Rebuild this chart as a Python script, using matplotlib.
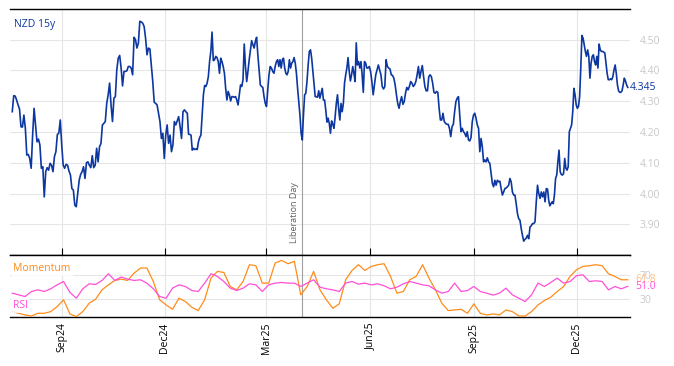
import numpy as np
import pandas as pd
import matplotlib
matplotlib.use("Agg")
import matplotlib.pyplot as plt
import matplotlib.dates as mdates
import matplotlib.transforms as mtransforms

plt.rcParams['font.family'] = ['Open Sans', 'DejaVu Sans']

# ---------------- data ----------------
series_name = "NZD 15y"
event_date = "2025-04-02"
event_label = "Liberation Day"

# boundaries of the chunks the NZD series is read in
chunk_dates = ["2024-07-19", "2024-10-03", "2024-12-21", "2025-03-11",
               "2025-05-30", "2025-08-17", "2025-11-05", "2026-01-15"]

nzd_1 = [4.266, 4.318, 4.317, 4.304, 4.288, 4.274, 4.217, 4.216, 4.255, 4.212, 4.125, 4.127, 4.114, 4.082,
         4.190, 4.277, 4.223, 4.168, 4.177, 4.158, 4.082, 4.087, 3.989, 4.071, 4.084, 4.076, 4.098, 4.092,
         4.071, 4.120, 4.136, 4.192, 4.196, 4.239, 4.158, 4.092, 4.082, 4.095, 4.092, 4.073, 4.060, 4.016,
         4.011, 3.962, 3.957, 4.000, 4.043, 4.062, 4.071, 4.087, 4.049, 4.100, 4.103, 4.092, 4.084, 4.123,
         4.084, 4.092, 4.147]
nzd_2 = [4.103, 4.152, 4.163, 4.223, 4.228, 4.234, 4.293, 4.321, 4.359, 4.288, 4.234, 4.310, 4.315, 4.402,
         4.440, 4.449, 4.408, 4.350, 4.397, 4.397, 4.399, 4.413, 4.413, 4.408, 4.386, 4.508, 4.500, 4.473,
         4.489, 4.560, 4.558, 4.554, 4.543, 4.505, 4.451, 4.473, 4.470, 4.418, 4.364, 4.297, 4.293, 4.288,
         4.261, 4.234, 4.179, 4.196, 4.114, 4.190, 4.223, 4.163, 4.190, 4.136, 4.158, 4.234, 4.223, 4.236,
         4.250, 4.217, 4.179, 4.266, 4.272, 4.266]
nzd_3 = [4.261, 4.193, 4.192, 4.190, 4.141, 4.147, 4.143, 4.145, 4.143, 4.168, 4.182, 4.190, 4.255, 4.321,
         4.351, 4.348, 4.359, 4.380, 4.429, 4.462, 4.525, 4.432, 4.435, 4.446, 4.442, 4.429, 4.391, 4.440,
         4.429, 4.413, 4.391, 4.342, 4.304, 4.332, 4.321, 4.301, 4.315, 4.315, 4.313, 4.315, 4.304, 4.288,
         4.321, 4.353, 4.348, 4.370, 4.486, 4.413, 4.364, 4.397, 4.435, 4.467, 4.497, 4.484, 4.473, 4.495,
         4.508, 4.451, 4.402, 4.353, 4.348, 4.345, 4.315, 4.293, 4.283, 4.337, 4.386, 4.413, 4.408, 4.397,
         4.391, 4.413, 4.429]
nzd_4 = [4.435, 4.413, 4.435, 4.408, 4.435, 4.440, 4.408, 4.391, 4.386, 4.397, 4.435, 4.408, 4.424, 4.429,
         4.442, 4.424, 4.391, 4.342, 4.299, 4.255, 4.196, 4.174, 4.255, 4.321, 4.326, 4.364, 4.418, 4.462,
         4.467, 4.440, 4.397, 4.353, 4.315, 4.315, 4.313, 4.334, 4.310, 4.326, 4.342, 4.304, 4.304, 4.272,
         4.232, 4.245, 4.228, 4.196, 4.236, 4.225, 4.212, 4.250, 4.293, 4.321, 4.275, 4.239, 4.293, 4.266,
         4.293, 4.359, 4.386, 4.408, 4.442, 4.397, 4.366, 4.386, 4.413, 4.391, 4.364, 4.490, 4.418, 4.429,
         4.408, 4.429, 4.386, 4.329, 4.429, 4.424, 4.408]
nzd_5 = [4.408, 4.413, 4.397, 4.364, 4.321, 4.353, 4.386, 4.402, 4.418, 4.402, 4.386, 4.348, 4.340, 4.348,
         4.435, 4.413, 4.408, 4.405, 4.386, 4.384, 4.375, 4.353, 4.321, 4.293, 4.277, 4.299, 4.315, 4.290,
         4.299, 4.326, 4.345, 4.337, 4.348, 4.364, 4.359, 4.348, 4.353, 4.364, 4.386, 4.413, 4.375, 4.397,
         4.416, 4.380, 4.348, 4.334, 4.334, 4.380, 4.386, 4.380, 4.359, 4.329, 4.326, 4.332, 4.329, 4.277,
         4.239, 4.239, 4.261, 4.234, 4.228, 4.225, 4.225, 4.212, 4.185, 4.217, 4.225, 4.266, 4.299]
nzd_6 = [4.310, 4.315, 4.255, 4.201, 4.212, 4.201, 4.196, 4.185, 4.201, 4.174, 4.171, 4.182, 4.234, 4.255,
         4.261, 4.245, 4.223, 4.212, 4.136, 4.179, 4.152, 4.103, 4.109, 4.103, 4.116, 4.103, 4.098, 4.065,
         4.033, 4.022, 4.043, 4.027, 4.043, 4.038, 4.040, 4.016, 3.995, 4.005, 4.016, 4.018, 4.022, 4.027,
         4.049, 4.038, 4.005, 3.995, 3.995, 3.967, 3.935, 3.918, 3.913, 3.886, 3.864, 3.845, 3.851, 3.855,
         3.864, 3.853, 3.891, 3.895, 3.902, 3.902, 3.908, 3.973, 4.027, 4.000, 3.984, 4.005, 3.989, 4.005,
         3.973, 4.016]
nzd_7 = [4.014, 3.978, 3.960, 3.967, 3.973, 3.967, 3.995, 4.049, 4.060, 4.103, 4.141, 4.071, 4.062, 4.060,
         4.065, 4.114, 4.082, 4.076, 4.087, 4.201, 4.212, 4.223, 4.266, 4.342, 4.321, 4.288, 4.277, 4.283,
         4.315, 4.408, 4.514, 4.505, 4.484, 4.462, 4.446, 4.467, 4.446, 4.375, 4.424, 4.446, 4.451, 4.429,
         4.418, 4.446, 4.408, 4.486, 4.467, 4.462, 4.462, 4.460, 4.457, 4.424, 4.391, 4.370, 4.370, 4.373,
         4.370, 4.380, 4.402, 4.418, 4.391, 4.353, 4.334, 4.329, 4.329, 4.334, 4.353, 4.375, 4.366, 4.353,
         4.345]

rsi = [39.8, 37.1, 34.3, 42.6, 45.3, 42.6, 47.0, 53.5, 59.0, 40.9, 31.6, 47.0, 55.2, 54.1, 60.7, 71.6,
       60.7, 66.3, 62.9, 60.7, 61.8, 56.3, 47.0, 34.3, 31.6, 48.1, 53.5, 50.8, 44.2, 42.6, 56.3, 71.6,
       67.3, 59.0, 48.1, 44.2, 48.1, 55.2, 53.5, 42.6, 53.5, 56.3, 57.4, 56.3, 56.3, 50.8, 56.3, 61.8,
       49.7, 47.0, 45.3, 42.6, 56.3, 59.0, 54.6, 56.3, 53.5, 55.2, 51.9, 47.0, 49.7, 55.2, 59.0, 56.3,
       53.5, 51.9, 45.3, 39.8, 42.6, 56.3, 42.6, 44.2, 50.8, 42.6, 39.8, 36.6, 39.8, 48.1, 37.1, 31.6,
       26.1, 37.1, 56.3, 50.8, 57.4, 64.5, 56.3, 59.0, 68.4, 70.0, 59.0, 60.1, 59.0, 45.3, 50.8, 47.0, 51.0]
momentum = [9.6, 6.9, 4.1, 2.5, 6.9, 6.9, 9.6, 17.9, 28.9, 5.8, 1.4, 9.6, 23.4, 30.0, 45.3, 53.5, 60.7,
            62.9, 60.7, 72.7, 81.0, 81.0, 59.0, 28.9, 20.6, 13.5, 31.6, 26.1, 16.8, 11.3, 28.9, 64.5, 75.5,
            73.8, 50.8, 45.3, 59.0, 86.5, 84.8, 56.3, 56.3, 89.2, 93.6, 88.1, 92.0, 37.1, 50.8, 75.5, 45.3,
            28.9, 15.1, 22.3, 61.8, 77.1, 86.5, 77.1, 83.7, 86.5, 88.1, 67.3, 39.8, 42.6, 61.8, 67.3, 86.5,
            64.5, 45.3, 23.4, 11.3, 12.4, 13.5, 6.9, 22.3, 6.9, 4.1, 5.8, 4.1, 12.4, 9.6, 2.5, 2.5, 9.6, 20.6,
            27.8, 33.2, 42.6, 50.8, 67.3, 78.2, 83.7, 84.8, 86.5, 84.8, 71.6, 67.3, 61.8, 61.8]

price_ticks = [3.90, 4.00, 4.10, 4.20, 4.30, 4.40, 4.50]
osc_ticks = [30, 70]
month_ticks = ["2024-09-01", "2024-12-01", "2025-03-01", "2025-06-01", "2025-09-01", "2025-12-01"]

# ---------------- build series ----------------
chunks = [nzd_1, nzd_2, nzd_3, nzd_4, nzd_5, nzd_6, nzd_7]
cd = mdates.date2num(pd.to_datetime(chunk_dates))
xs, ys = [], []
for i, vals in enumerate(chunks):
    last = i == len(chunks) - 1
    xs.append(np.linspace(cd[i], cd[i + 1], len(vals), endpoint=last))
    ys.append(np.array(vals))
x_nzd = np.concatenate(xs)
y_nzd = np.concatenate(ys)
x_osc = np.linspace(cd[0], cd[-1], len(rsi))
x_mom = np.linspace(cd[0], cd[-1], len(momentum))

# ---------------- figure ----------------
W, H = 674, 366
fig = plt.figure(figsize=(W / 100, H / 100), dpi=100)
L, R = 10 / W, 630 / W
ax = fig.add_axes([L, 1 - 255 / H, R - L, (255 - 9) / H])
ax2 = fig.add_axes([L, 1 - 317 / H, R - L, (317 - 255) / H], sharex=ax)

blue = "#0d37a0"
orange = "#ff8c1a"
pink = "#ff4fd8"
grid_c = "#e6e6e6"
lab_c = "#c8c8c8"

ax.plot(x_nzd, y_nzd, color=blue, lw=1.2, zorder=3)
ax.set_ylim(3.80, 4.60)
ax.set_xlim(mdates.date2num(pd.Timestamp("2024-07-17")), mdates.date2num(pd.Timestamp("2026-01-17")))

xt = mdates.date2num(pd.to_datetime(month_ticks))
for a in (ax, ax2):
    a.set_xticks(xt)
    for s in ("left", "right"):
        a.spines[s].set_visible(False)
    for s in ("top", "bottom"):
        a.spines[s].set_color("black")
        a.spines[s].set_linewidth(1.0)
    a.grid(True, color=grid_c, lw=0.8, zorder=0)
    a.set_axisbelow(True)
    a.yaxis.tick_right()
    a.tick_params(axis="y", length=0, labelcolor=lab_c, labelsize=7.5, pad=7)
    a.axvline(mdates.date2num(pd.Timestamp(event_date)), color="#a0a0a0", lw=0.8, zorder=2)

ax.set_yticks(price_ticks)
ax.set_yticklabels([f"{v:.2f}" for v in price_ticks])
ax.tick_params(axis="x", direction="in", length=5, color="black", labelbottom=False)

ax.text(0.006, 0.935, series_name, transform=ax.transAxes, color=blue, fontsize=7.5,
        ha="left", va="center")
ax.text(1.0, y_nzd[-1], f"{y_nzd[-1]:.3f}", transform=mtransforms.blended_transform_factory(ax.transAxes, ax.transData),
        color=blue, fontsize=7.5, ha="left", va="center")
ax.text(0.0, 0, "")
off = mtransforms.offset_copy(ax.transData, fig=fig, x=-8, y=0, units="dots")
ax.text(mdates.date2num(pd.Timestamp(event_date)), 3.838, event_label, rotation=90, transform=off,
        fontsize=6.5, color="#606060", ha="center", va="bottom")

ax2.plot(x_mom, momentum, color=orange, lw=0.9, zorder=3)
ax2.plot(x_osc, rsi, color=pink, lw=0.9, zorder=3)
ax2.set_ylim(0.8, 102.4)
ax2.set_yticks(osc_ticks)
ax2.set_yticklabels([str(v) for v in osc_ticks])
ax2.xaxis.set_major_formatter(mdates.DateFormatter("%b%y"))
ax2.tick_params(axis="x", length=0, labelsize=7.5, rotation=90, pad=4)
bt = mtransforms.blended_transform_factory(ax2.transAxes, ax2.transData)
ax2.text(1.008, momentum[-1], f"{momentum[-1]:.1f}", transform=bt, color="#ffc080", fontsize=7.5,
         ha="left", va="center")
ax2.text(1.008, rsi[-1], f"{rsi[-1]:.1f}", transform=bt, color=pink, fontsize=7.5,
         ha="left", va="center")
ax2.text(0.005, 0.79, "Momentum", transform=ax2.transAxes, color=orange, fontsize=7.5, ha="left",
         va="center", zorder=5, bbox=dict(facecolor="white", edgecolor="none", alpha=0.85, pad=1.5))
ax2.text(0.005, 0.18, "RSI", transform=ax2.transAxes, color=pink, fontsize=7.5, ha="left",
         va="center", zorder=5, bbox=dict(facecolor="white", edgecolor="none", alpha=0.8, pad=1.5))

fig.savefig("out.png", dpi=100)
